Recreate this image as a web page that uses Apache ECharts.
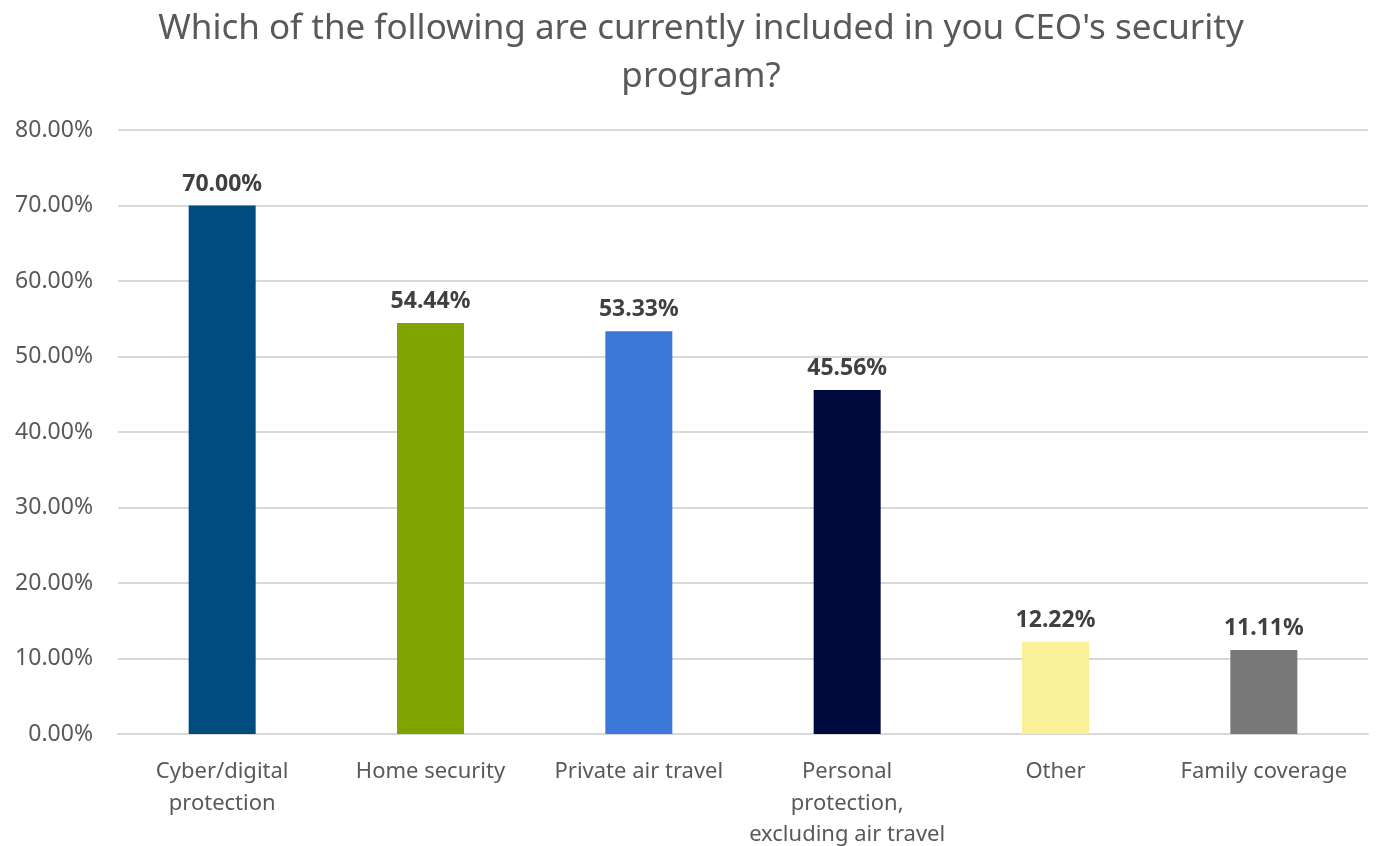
<!DOCTYPE html>
<html>
<head>
<meta charset="utf-8">
<script src="https://cdn.jsdelivr.net/npm/echarts@6/dist/echarts.min.js"></script>
<style>
  html, body { margin: 0; padding: 0; background: #ffffff; }
  #chart { width: 1377px; height: 846px; }
</style>
</head>
<body>
<div id="chart"></div>
<script>
// Survey categories (line breaks as shown under each bar)
const categories = [
  'Cyber/digital\nprotection',
  'Home security',
  'Private air travel',
  'Personal\nprotection,\nexcluding air travel',
  'Other',
  'Family coverage'
];
// Share of respondents, percent
const values = [70.00, 54.44, 53.33, 45.56, 12.22, 11.11];
// One fill per bar
const barColors = ['#004C7F', '#7FA300', '#3C78D8', '#000A3D', '#F9F19A', '#787878'];
// Value-axis ticks
const yTicks = [0, 10, 20, 30, 40, 50, 60, 70, 80];

const fontFamily = '"Noto Sans", "Open Sans", sans-serif';

const chart = echarts.init(document.getElementById('chart'), null, { renderer: 'canvas' });

chart.setOption({
  backgroundColor: '#ffffff',
  animation: false,
  title: {
    text: "Which of the following are currently included in you CEO's security\nprogram?",
    left: 696,
    top: 0,
    textAlign: 'center',
    textStyle: {
      fontFamily: fontFamily,
      fontSize: 35,
      fontWeight: 'normal',
      color: '#595959',
      lineHeight: 48
    }
  },
  grid: {
    left: 118,
    right: 9,
    top: 130,
    bottom: 112,
    containLabel: false,
    // keep the plot box fixed even though the bottom label row runs to the edge
    outerBoundsMode: 'none'
  },
  xAxis: {
    type: 'category',
    data: categories,
    axisTick: { show: false },
    axisLine: { show: true, lineStyle: { color: '#d9d9d9', width: 2 } },
    axisLabel: {
      interval: 0,
      margin: 22,
      fontFamily: fontFamily,
      fontSize: 22,
      color: '#595959',
      lineHeight: 31.5
    }
  },
  yAxis: {
    type: 'value',
    min: yTicks[0],
    max: yTicks[yTicks.length - 1],
    interval: 10,
    axisLine: { show: false },
    axisTick: { show: false },
    splitLine: { lineStyle: { color: '#d9d9d9', width: 2 } },
    axisLabel: {
      margin: 25,
      fontFamily: fontFamily,
      fontSize: 23,
      color: '#595959',
      formatter: v => v.toFixed(2) + '%'
    }
  },
  series: [{
    type: 'bar',
    data: values.map((v, i) => ({ value: v, itemStyle: { color: barColors[i] } })),
    barWidth: 67,
    label: {
      show: true,
      position: 'top',
      distance: 10,
      fontFamily: fontFamily,
      fontSize: 23,
      fontWeight: 'bold',
      color: '#404040',
      formatter: p => p.value.toFixed(2) + '%'
    }
  }]
});
</script>
</body>
</html>
